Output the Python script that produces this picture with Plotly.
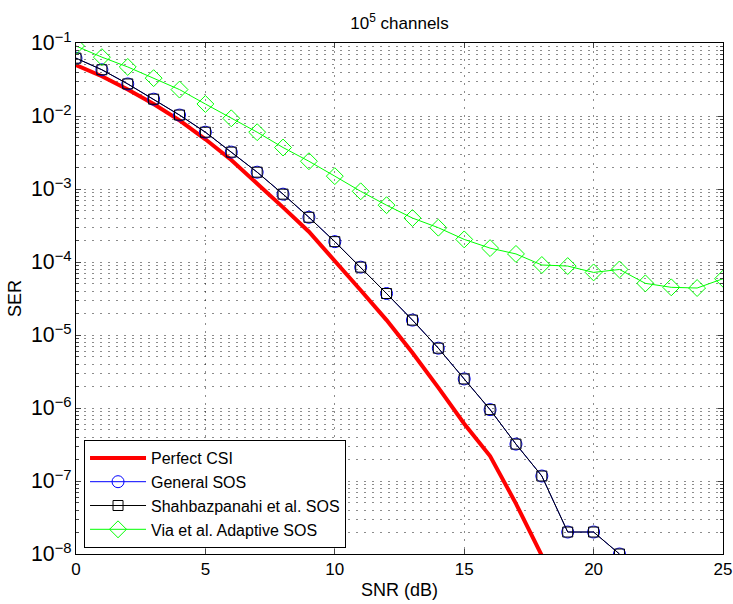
import plotly.graph_objects as go

snr = list(range(0, 26))

perfect_csi = [0.050, 0.035, 0.023, 0.0146, 0.0087, 0.0048, 0.0025, 0.0012, 5.6e-4, 2.6e-4,
               1.05e-4, 4.1e-5, 1.6e-5, 5.7e-6, 1.9e-6, 6.1e-7, 2.2e-7, 4.9e-8, 9.5e-9]
general_sos = [0.062, 0.043, 0.0275, 0.017, 0.0103, 0.006, 0.0032, 0.0017, 8.5e-4, 4.1e-4,
               1.9e-4, 8.5e-5, 3.7e-5, 1.6e-5, 6.6e-6, 2.5e-6, 9.5e-7, 3.2e-7, 1.17e-7, 2e-8,
               2e-8, 1e-8]
shahbaz_sos = [0.062, 0.043, 0.0275, 0.017, 0.0103, 0.006, 0.0032, 0.0017, 8.5e-4, 4.1e-4,
               1.9e-4, 8.5e-5, 3.7e-5, 1.6e-5, 6.6e-6, 2.5e-6, 9.5e-7, 3.2e-7, 1.17e-7, 2e-8,
               2e-8, 1e-8]
via_sos = [0.091, 0.064, 0.047, 0.033, 0.023, 0.0146, 0.0093, 0.006, 0.0037, 0.0024,
           0.0015, 9.3e-4, 6e-4, 4e-4, 2.95e-4, 2.04e-4, 1.55e-4, 1.29e-4, 9.1e-5, 8.8e-5,
           7.2e-5, 7.9e-5, 5.1e-5, 4.5e-5, 4.4e-5, 5.9e-5]

x_ticks = [0, 5, 10, 15, 20, 25]

FONT = "Liberation Sans, Arial, Helvetica, sans-serif"
GRID = "rgba(0,0,0,0.45)"
DASH = "2px,6px"

fig = go.Figure()
fig.add_trace(go.Scatter(x=snr[:len(perfect_csi)], y=perfect_csi, mode="lines",
                         name="Perfect CSI", line=dict(color="#ff0000", width=4)))
fig.add_trace(go.Scatter(x=snr[:len(general_sos)], y=general_sos, mode="lines+markers",
                         name="General SOS", line=dict(color="#0000ff", width=1),
                         marker=dict(symbol="circle-open", size=12, color="#0000ff",
                                     line=dict(width=1, color="#0000ff"))))
fig.add_trace(go.Scatter(x=snr[:len(shahbaz_sos)], y=shahbaz_sos, mode="lines+markers",
                         name="Shahbazpanahi et al. SOS", line=dict(color="#000000", width=1),
                         marker=dict(symbol="square-open", size=10, color="#000000",
                                     line=dict(width=1, color="#000000"))))
fig.add_trace(go.Scatter(x=snr[:len(via_sos)], y=via_sos, mode="lines+markers",
                         name="Via et al. Adaptive SOS", line=dict(color="#00ff00", width=1),
                         marker=dict(symbol="diamond-open", size=13, color="#00ff00",
                                     line=dict(width=1, color="#00ff00"))))

fig.update_layout(
    width=733, height=604,
    margin=dict(l=76, r=10, t=43, b=50),
    paper_bgcolor="white", plot_bgcolor="white",
    font=dict(family=FONT, size=17, color="black"),
    title=dict(text="10<sup>5</sup> channels", x=(76 + 723) / 2 / 733, xanchor="center",
               y=1 - 23 / 604, yanchor="middle", yref="container",
               font=dict(family=FONT, size=17, color="black")),
    showlegend=True,
    legend=dict(x=0.0124, y=(554 - 494) / 511, xanchor="left", yanchor="middle",
                bgcolor="white", bordercolor="black", borderwidth=1,
                font=dict(family=FONT, size=16), tracegroupgap=0, itemwidth=56),
    xaxis=dict(range=[0, 25], tickvals=x_ticks, ticks="inside", ticklen=5,
               showline=True, linecolor="black", linewidth=1, mirror="ticks",
               showgrid=True, gridcolor=GRID, griddash=DASH, gridwidth=1,
               zeroline=False, automargin=False,
               title=dict(text="SNR (dB)", standoff=4, font=dict(size=18)),
               tickfont=dict(size=17)),
    yaxis=dict(type="log", range=[-8, -1], dtick=1, exponentformat="power",
               ticks="inside", ticklen=5,
               showline=True, linecolor="black", linewidth=1, mirror="ticks",
               showgrid=True, gridcolor=GRID, griddash=DASH, gridwidth=1,
               minor=dict(dtick="D1", ticks="inside", ticklen=3, showgrid=True,
                          gridcolor=GRID, griddash=DASH, gridwidth=1),
               zeroline=False, automargin=False,
               title=dict(text="SER", standoff=4, font=dict(size=18)),
               tickfont=dict(size=17)),
)

fig.write_html("out.html")
